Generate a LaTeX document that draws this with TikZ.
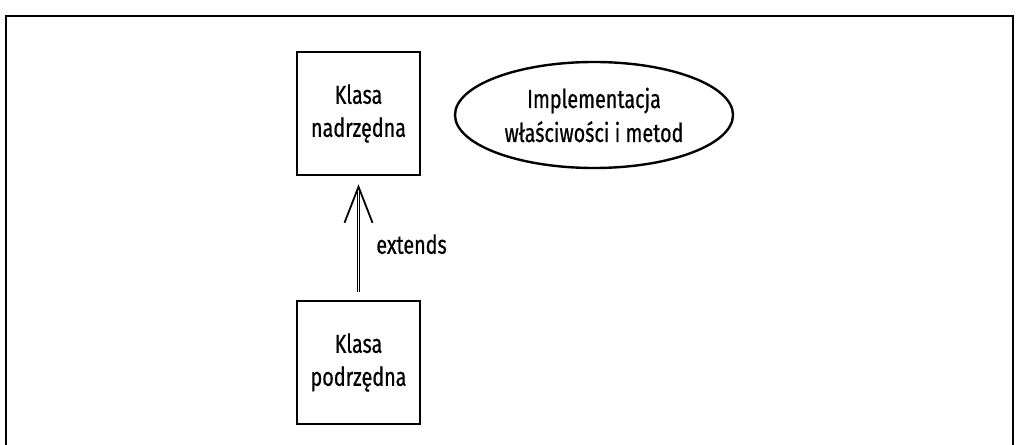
\documentclass[tikz,border=0pt]{standalone}
\usepackage{fontspec}
\setmainfont{Fira Sans}[FakeStretch=0.76, FakeBold=0.6]
\usetikzlibrary{arrows.meta,shapes.geometric}

\tikzset{
    classbox/.style={draw, line width=2.6pt, minimum width=123pt, minimum height=123pt,
        align=center, font=\fontsize{26}{33}\selectfont, inner sep=0pt},
    implblob/.style={draw, ellipse, line width=2.4pt, minimum width=278pt, minimum height=106pt,
        align=center, font=\fontsize{26}{34}\selectfont, inner sep=0pt},
}

\begin{document}
\begin{tikzpicture}[x=1pt, y=1pt]
    % Fix the page to the reference size
    \useasboundingbox (0,0) rectangle (1019,444);
    \draw[line width=2pt] (6,-20) -- (6,428) -- (1013,428) -- (1013,-20);

    % Define the two classes and the implementation blob
    \node[classbox] (super) at (358.5,330.5) {Klasa\\nadrzędna};
    \node[classbox] (sub) at (358.5,81.5) {Klasa\\podrzędna};
    \node[implblob] (impl) at (594,329) {Implementacja\\właściwości i metod};

    % Draw the inheritance arrow
    \draw[double, double distance=1.6pt, line width=1pt, shorten <=8pt, shorten >=8pt,
        -{Straight Barb[length=36pt, width=28pt, line width=1.8pt]}]
        (sub.north) -- (super.south) node[pos=0.45, right=14pt, font=\fontsize{26}{28}\selectfont]{extends};
\end{tikzpicture}
\end{document}
